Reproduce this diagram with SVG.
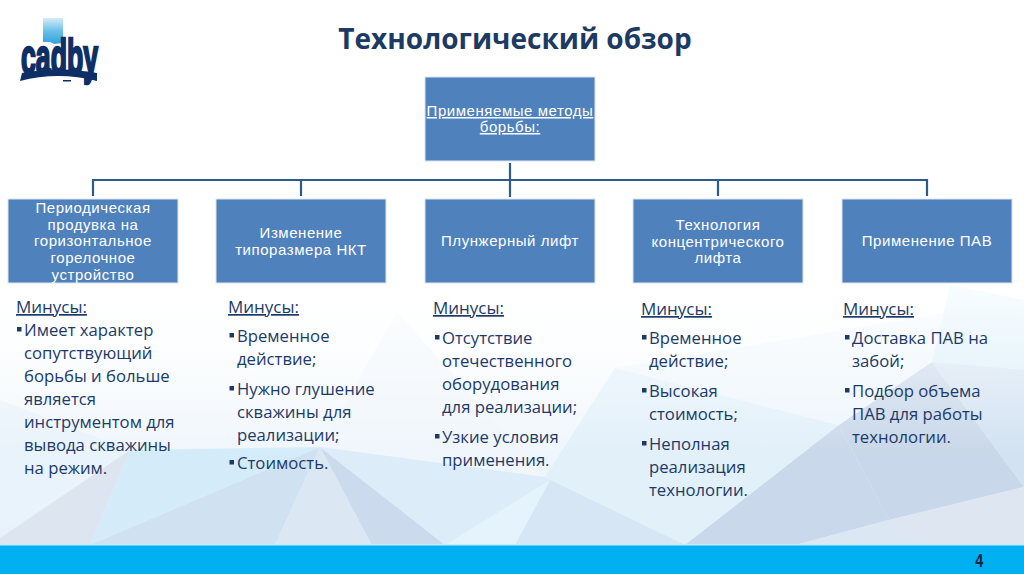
<svg xmlns="http://www.w3.org/2000/svg" width="1024" height="574" viewBox="0 0 1024 574">
<defs><linearGradient id="bg" x1="0" y1="0" x2="0" y2="1"><stop offset="0" stop-color="#ffffff"/><stop offset="0.5" stop-color="#ffffff"/><stop offset="0.72" stop-color="#f3f8fd"/><stop offset="1" stop-color="#e2f0fb"/></linearGradient>
<linearGradient id="flag" x1="0" y1="0" x2="0" y2="1"><stop offset="0" stop-color="#d5ecf8"/><stop offset=".5" stop-color="#6cc0e8"/><stop offset="1" stop-color="#2fa3dc"/></linearGradient>
<linearGradient id="fade" x1="0" y1="0" x2="0" y2="1"><stop offset="0" stop-color="#ffffff" stop-opacity=".85"/><stop offset="1" stop-color="#ffffff" stop-opacity="0"/></linearGradient>
</defs>
<style>
.box{fill:#4f81bd;stroke:#dce6f2;stroke-width:1}
.bl{font:15px "Liberation Sans",Arial,sans-serif;fill:#fff;text-anchor:middle;letter-spacing:.55px}
.li{font:16.7px "Open Sans",sans-serif;fill:#1c3a68}
.h{font:17px "Open Sans",sans-serif;fill:#1c3a68;text-decoration:underline}
.c{fill:none;stroke:#2f5a8c;stroke-width:2.2}
.b{fill:#1c3a68}
</style>
<rect width="1024" height="574" fill="url(#bg)"/>
<g id="background">
<polygon points="0,400 130,450 0,530" fill="#e9f3fb"/>
<polygon points="397,312 320,447 545,477" fill="#f0f6fc"/>
<polygon points="130,450 320,447 90,545" fill="#d4ecfa"/>
<polygon points="0,538 130,450 90,545 0,545" fill="#dde5f1"/>
<polygon points="90,545 320,447 275,545" fill="#d0e1f1"/>
<polygon points="320,447 275,545 372,545" fill="#dbe8f4"/>
<polygon points="320,447 372,545 445,545" fill="#cbdaec"/>
<polygon points="320,447 545,477 685,545 445,545" fill="#dcecf8"/>
<polygon points="615,368 839,425 685,545 545,477" fill="#e2f0fa"/>
<polygon points="615,368 1024,300 1024,370 932,362 839,425" fill="#eef6fc"/>
<polygon points="950,285 1024,300 1024,375 932,362" fill="#d6eefa"/>
<polygon points="515,545 550,480 685,545" fill="#d6e6f4"/>
<polygon points="445,545 550,480 515,545" fill="#e4f3fc"/>
<polygon points="685,545 839,425 889,520 795,545" fill="#c9d8ea"/>
<polygon points="839,425 932,362 1024,487 889,520" fill="#c8d7e9"/>
<polygon points="795,545 889,520 925,545" fill="#dbe8f4"/>
<polygon points="889,520 1024,487 1024,545 925,545" fill="#dee6f1"/>
<polygon points="932,362 1024,370 1024,487" fill="#d2e2f2"/>
<rect x="0" y="284" width="1024" height="170" fill="url(#fade)"/>
</g>
<rect y="545" width="1024" height="29" fill="#00b0f0"/>
<rect y="544" width="1024" height="1.5" fill="#c4ecfb"/>
<g id="logo">
<polygon points="43,18 63,18 63,43 54,44 50,42 43,42" fill="url(#flag)"/>
<text x="21" y="74" textLength="77" lengthAdjust="spacingAndGlyphs" style="font:bold 50px 'Liberation Sans',sans-serif;fill:#0d2f66;stroke:#0d2f66;stroke-width:2.5">cadby</text>
<path d="M20 81Q58 71 97 81L97 73Q58 66 22 73Z" fill="#0d2f66"/>
<rect x="63" y="80" width="8" height="1.5" fill="#0d2f66"/>
</g>
<text x="515" y="49" text-anchor="middle" style="font:bold 28px 'Open Sans',sans-serif;fill:#1c3a62">Технологический обзор</text>
<g id="connectors">
<path class="c" d="M510 163V197M93 196V180H927V196M301 180V196M718 180V196"/>
</g>
<g id="n0"><rect class="box" x="425" y="77" width="170" height="84"/>
<text class="bl" x="510" y="116" text-decoration="underline">Применяемые методы</text><text class="bl" x="510" y="132" text-decoration="underline">борьбы:</text></g>
<g id="n1"><rect class="box" x="8" y="199" width="170" height="84"/>
<text class="bl" x="93" y="213">Периодическая</text><text class="bl" x="93" y="230">продувка на</text><text class="bl" x="93" y="246">горизонтальное</text><text class="bl" x="93" y="263">горелочное</text><text class="bl" x="93" y="280">устройство</text></g>
<g id="n2"><rect class="box" x="216" y="199" width="170" height="84"/>
<text class="bl" x="301" y="238">Изменение</text><text class="bl" x="301" y="255">типоразмера НКТ</text></g>
<g id="n3"><rect class="box" x="425" y="199" width="170" height="84"/>
<text class="bl" x="510" y="246">Плунжерный лифт</text></g>
<g id="n4"><rect class="box" x="633" y="199" width="170" height="84"/>
<text class="bl" x="718" y="230">Технология</text><text class="bl" x="718" y="247">концентрического</text><text class="bl" x="718" y="263">лифта</text></g>
<g id="n5"><rect class="box" x="842" y="199" width="170" height="84"/>
<text class="bl" x="927" y="246">Применение ПАВ</text></g>
<g id="list1"><text class="h" x="16" y="313">Минусы:</text>
<rect class="b" x="17" y="327" width="4.5" height="4.5"/>
<text class="li" x="24" y="336">Имеет характер</text><text class="li" x="24" y="359">сопутствующий</text><text class="li" x="24" y="382">борьбы и больше</text><text class="li" x="24" y="405">является</text><text class="li" x="24" y="428">инструментом для</text><text class="li" x="24" y="451">вывода скважины</text><text class="li" x="24" y="474">на режим.</text></g>
<g id="list2"><text class="h" x="228" y="313">Минусы:</text>
<rect class="b" x="229.500" y="333" width="4.5" height="4.5"/><text class="li" x="237" y="342">Временное</text><text class="li" x="237" y="365">действие;</text>
<rect class="b" x="229.500" y="386" width="4.5" height="4.5"/><text class="li" x="237" y="395">Нужно глушение</text><text class="li" x="237" y="418">скважины для</text><text class="li" x="237" y="441">реализации;</text>
<rect class="b" x="229.500" y="460" width="4.5" height="4.5"/><text class="li" x="237" y="469">Стоимость.</text></g>
<g id="list3"><text class="h" x="433" y="314">Минусы:</text>
<rect class="b" x="435" y="335" width="4.5" height="4.5"/><text class="li" x="442" y="344">Отсутствие</text><text class="li" x="442" y="367">отечественного</text><text class="li" x="442" y="390">оборудования</text><text class="li" x="442" y="413">для реализации;</text>
<rect class="b" x="435" y="434" width="4.5" height="4.5"/><text class="li" x="442" y="443">Узкие условия</text><text class="li" x="442" y="466">применения.</text></g>
<g id="list4"><text class="h" x="641" y="315">Минусы:</text>
<rect class="b" x="642" y="335" width="4.5" height="4.5"/><text class="li" x="649" y="344">Временное</text><text class="li" x="649" y="367">действие;</text>
<rect class="b" x="642" y="388" width="4.5" height="4.5"/><text class="li" x="649" y="397">Высокая</text><text class="li" x="649" y="420">стоимость;</text>
<rect class="b" x="642" y="441" width="4.5" height="4.5"/><text class="li" x="649" y="450">Неполная</text><text class="li" x="649" y="473">реализация</text><text class="li" x="649" y="496">технологии.</text></g>
<g id="list5"><text class="h" x="843" y="315">Минусы:</text>
<rect class="b" x="845" y="335" width="4.5" height="4.5"/><text class="li" x="852" y="344">Доставка ПАВ на</text><text class="li" x="852" y="367">забой;</text>
<rect class="b" x="845" y="388" width="4.5" height="4.5"/><text class="li" x="852" y="397">Подбор объема</text><text class="li" x="852" y="420">ПАВ для работы</text><text class="li" x="852" y="443">технологии.</text></g>
<text x="979" y="567" text-anchor="middle" style="font:bold 18px 'Liberation Sans',sans-serif;fill:#0b2244" transform="translate(196 0) scale(.8 1)">4</text>
</svg>
